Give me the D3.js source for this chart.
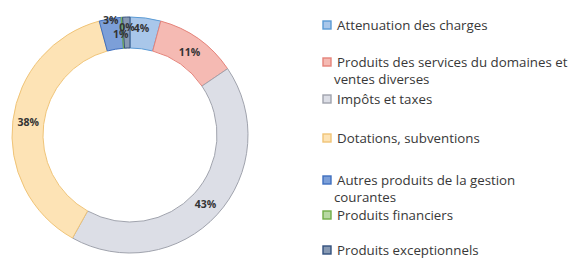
<!DOCTYPE html>
<html>
<head>
<meta charset="utf-8">
<script src="https://cdn.jsdelivr.net/npm/d3@7"></script>
<style>
  html, body { margin: 0; padding: 0; background: #ffffff; }
  svg { display: block; }
</style>
</head>
<body>
<svg id="chart" width="575" height="258"></svg>
<script>
// ---- data ----
const categories = [
  "Attenuation des charges",
  "Produits des services du domaines et\nventes diverses",
  "Impôts et taxes",
  "Dotations, subventions",
  "Autres produits de la gestion\ncourantes",
  "Produits financiers",
  "Produits exceptionnels"
];
const values = [4.2, 11.3, 42.6, 37.7, 3.0, 0.2, 1.0];
const fills   = ["#a9c7ea", "#f5bab3", "#dcdee6", "#fde3b5", "#7c9fd8", "#b7d9a2", "#8799b3"];
const strokes = ["#5b9bd5", "#e5837a", "#a0a3ad", "#f0c477", "#3f6fbf", "#70ad47", "#33507e"];

// ---- layout (not data) ----
const W = 575, H = 258;
const cx = 130, cy = 135, rOuter = 118, rInner = 87;
const labelNudge = [[-2, -5], [0, 0], [0, 0], [0, 0], [-2, -14], [4, -6], [-6, 1]];
const legendX = 327, legendTextX = 337;
const legendY = [25, 62, 99, 138, 180, 215, 250];
const legendLineH = 17;

const svg = d3.select("#chart");
const total = d3.sum(values);

const pie = d3.pie().sort(null).value(d => d)(values);
const arc = d3.arc().innerRadius(rInner).outerRadius(rOuter);
const labelArc = d3.arc().innerRadius((rInner + rOuter) / 2).outerRadius((rInner + rOuter) / 2);

const g = svg.append("g").attr("transform", `translate(${cx},${cy})`);

g.selectAll("path.slice")
  .data(pie)
  .join("path")
  .attr("class", "slice")
  .attr("d", arc)
  .attr("fill", (d, i) => fills[i])
  .attr("stroke", (d, i) => strokes[i])
  .attr("stroke-width", 1);

g.selectAll("text.pct")
  .data(pie)
  .join("text")
  .attr("class", "pct")
  .attr("transform", (d, i) => {
    const c = labelArc.centroid(d);
    return `translate(${c[0] + labelNudge[i][0]},${c[1] + labelNudge[i][1]})`;
  })
  .attr("text-anchor", "middle")
  .attr("dominant-baseline", "central")
  .attr("font-family", "'Open Sans', 'DejaVu Sans', sans-serif")
  .attr("font-size", 10.5)
  .attr("font-weight", "bold")
  .attr("fill", "#333333")
  .text(d => Math.round(d.value / total * 100) + "%");

// ---- legend ----
const leg = svg.append("g");
categories.forEach((name, i) => {
  const y = legendY[i];
  leg.append("rect")
    .attr("x", legendX - 4).attr("y", y - 4)
    .attr("width", 8).attr("height", 8)
    .attr("fill", fills[i]).attr("stroke", strokes[i]).attr("stroke-width", 1.4);
  const t = leg.append("text")
    .attr("x", legendTextX).attr("y", y)
    .attr("font-family", "'Open Sans', 'DejaVu Sans', sans-serif")
    .attr("font-size", 13.3)
    .attr("fill", "#383838")
    .attr("dominant-baseline", "central");
  name.split("\n").forEach((line, j) => {
    t.append("tspan")
      .attr("x", j === 0 ? legendTextX : legendTextX - 3)
      .attr("y", y + j * legendLineH)
      .text(line);
  });
});
</script>
</body>
</html>
